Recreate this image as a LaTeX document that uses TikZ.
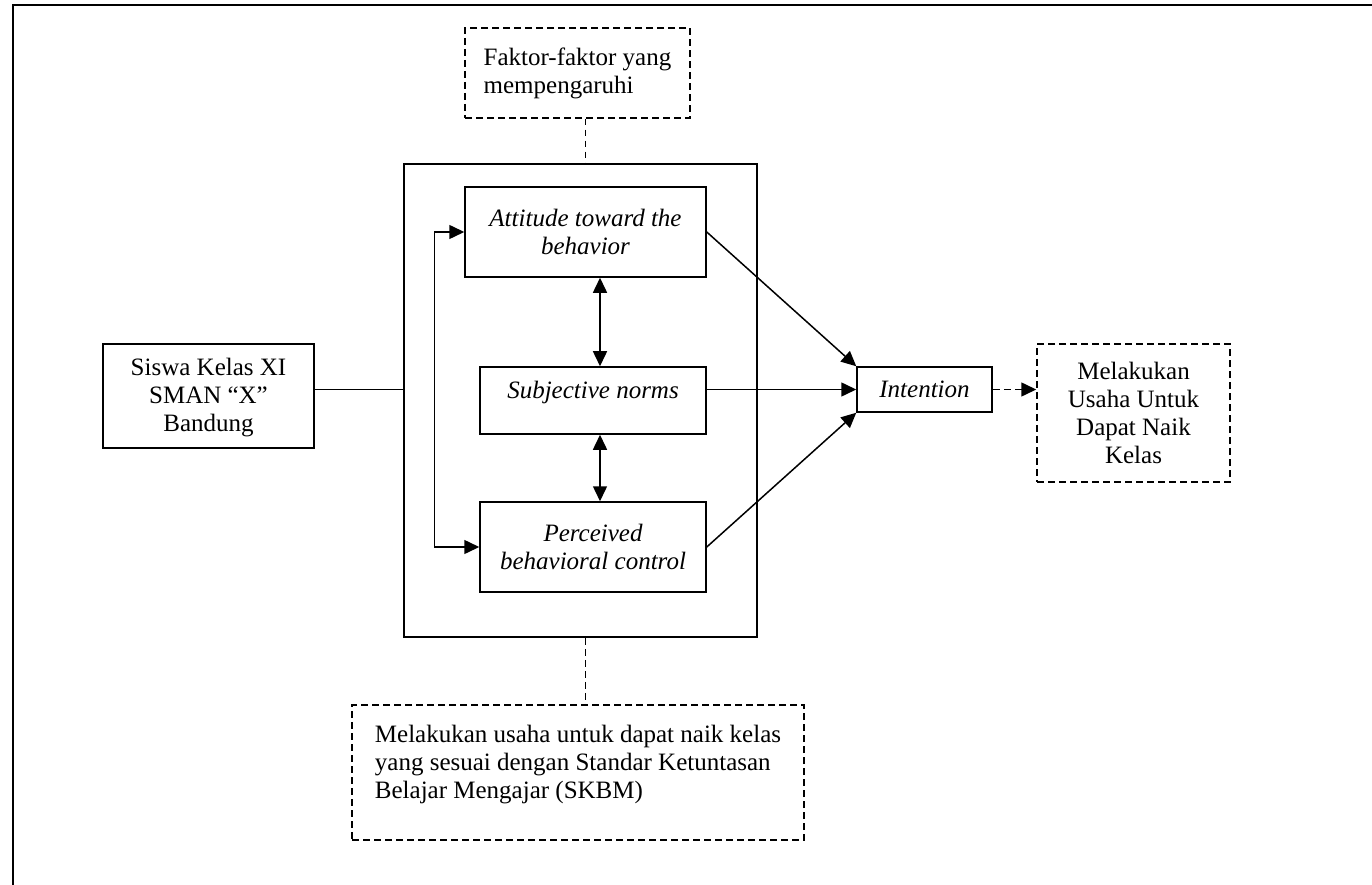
\documentclass[tikz,border=0pt]{standalone}
\usepackage{fontspec}
\setmainfont{Liberation Serif}
\usetikzlibrary{arrows.meta}

\tikzset{
  box/.style={draw, line width=0.6pt, inner sep=0pt, align=center,
    font=\fontsize{10}{11.2}\selectfont},
  tpb/.style={box, font=\fontsize{10}{11.2}\selectfont\itshape},
  dbox/.style={box, dash pattern=on 2.7pt off 1.7pt},
  dline/.style={line width=0.6pt, dash pattern=on 2.7pt off 1.7pt},
  link/.style={line width=0.6pt, -{Triangle[length=6pt,width=5.6pt]}},
  both/.style={line width=0.6pt, {Triangle[length=6pt,width=5.6pt]}-{Triangle[length=6pt,width=5.6pt]}},
}

\begin{document}
\begin{tikzpicture}[x=0.4pt,y=-0.4pt]
\useasboundingbox (0,0) rectangle (1372,885);
% page border
\draw[line width=0.8pt] (12.5,885) -- (12.5,5) -- (1372,5);

% boxes
\node[dbox, minimum width=90pt, minimum height=36pt, align=left] (faktor) at (577.5,73) {Faktor-faktor yang\\mempengaruhi};
\node[box, minimum width=141.2pt, minimum height=189.2pt] (frame) at (580.5,400.5) {};
\node[tpb, minimum width=96.4pt, minimum height=36pt] (attitude) at (585.5,232) {Attitude toward the\\behavior};
\node[tpb, minimum width=90.4pt, minimum height=26.8pt, text height=7pt, text depth=9pt] (subjective) at (593,400.5) {Subjective norms};
\node[tpb, minimum width=90.4pt, minimum height=36pt] (perceived) at (593,547) {Perceived\\behavioral control};
\node[box, minimum width=84.4pt, minimum height=41.6pt, text depth=1pt] (siswa) at (208.5,396) {Siswa Kelas XI\\SMAN “X”\\Bandung};
\node[tpb, minimum width=54pt, minimum height=18pt] (intention) at (924.5,389.5) {Intention};
\node[dbox, minimum width=77.2pt, minimum height=55.2pt] (usaha) at (1133.5,413) {Melakukan\\Usaha Untuk\\Dapat Naik\\Kelas};
\node[dbox, minimum width=180.8pt, minimum height=54pt, text depth=8.6pt, align=left] (hasil) at (578,772.5) {Melakukan usaha untuk dapat naik kelas\\yang sesuai dengan Standar Ketuntasan\\Belajar Mengajar (SKBM)};

% connectors
\coordinate (spine) at (600,0);
\draw[line width=0.6pt] (siswa.east |- intention) -- (frame.west |- intention);
\draw[dline] (faktor.south -| attitude) -- (frame.north -| attitude);
\draw[dline] (frame.south -| attitude) -- (hasil.north -| attitude);
\draw[both] (attitude.south -| spine) -- (subjective.north -| spine);
\draw[both] (subjective.south -| spine) -- (perceived.north -| spine);
\draw[both] (attitude.west) -- ++(-30,0) |- (perceived.west);
\draw[link] (attitude.east) -- (intention.north west);
\draw[link] (subjective.east |- intention.west) -- (intention.west);
\draw[link] (perceived.east) -- (intention.south west);
\draw[link, dash pattern=on 2.7pt off 1.7pt] (intention.east) -- (intention.east -| usaha.west);
\end{tikzpicture}
\end{document}
